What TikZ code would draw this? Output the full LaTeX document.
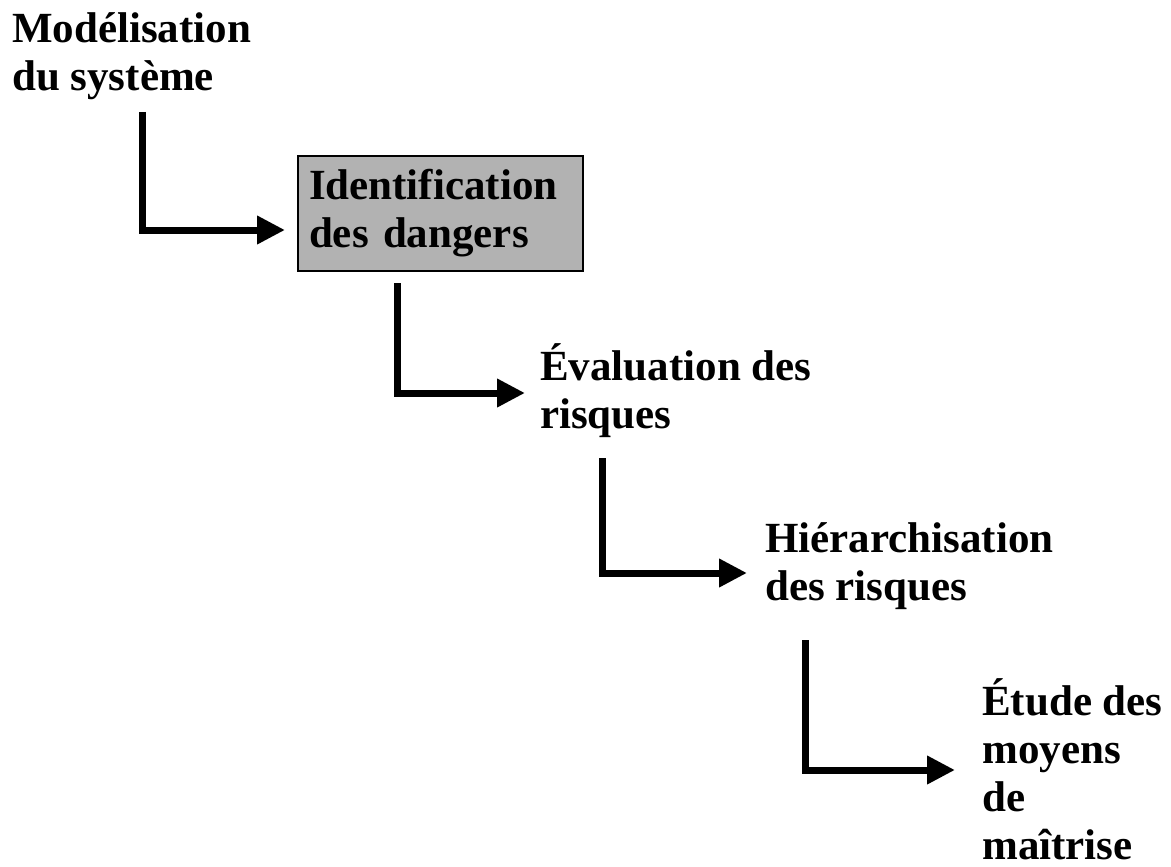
\documentclass[tikz,border=0pt]{standalone}
\usepackage{fontspec}
\setmainfont{Liberation Serif}
\usetikzlibrary{arrows.meta,positioning}

\begin{document}
\begin{tikzpicture}[x=1pt, y=-1pt,
    every node/.style={font=\fontsize{43}{48}\selectfont\bfseries, inner sep=0pt, align=left, anchor=base west},
    stepbox/.style={draw, line width=2pt, fill=black!30, text width=263pt, minimum height=115pt, inner xsep=11pt, anchor=north west},
    flow/.style={line width=7pt, line join=miter, -{Triangle[length=28pt,width=27pt]}}]
    \useasboundingbox (0,0) rectangle (1171,867);
    % text nodes, placed at the baseline of their last line
    \node (model) at (12,91) {Modélisation\\du système};
    \node[stepbox] (ident) at (297,155) {Identification\\des dangers};
    \node (eval) at (540,428) {Évaluation des\\risques};
    \node (hier) at (765,600) {Hiérarchisation\\des risques};
    \node (etude) at (982,859) {Étude des\\moyens\\de\\maîtrise};
    % starts of the elbow connectors
    \coordinate (s1) at (142,112);
    \coordinate (s2) at (397,283);
    \coordinate (s3) at (602,458);
    \coordinate (s4) at (805,640);
    \draw[flow] (s1) |- ([xshift=-12pt,yshift=-16.5pt]ident.west);
    \draw[flow] (s2) |- ([xshift=-15pt,yshift=35pt]eval.base west);
    \draw[flow] (s3) |- ([xshift=-18pt,yshift=27pt]hier.base west);
    \draw[flow] (s4) |- ([xshift=-27pt,yshift=89pt]etude.base west);
\end{tikzpicture}
\end{document}
